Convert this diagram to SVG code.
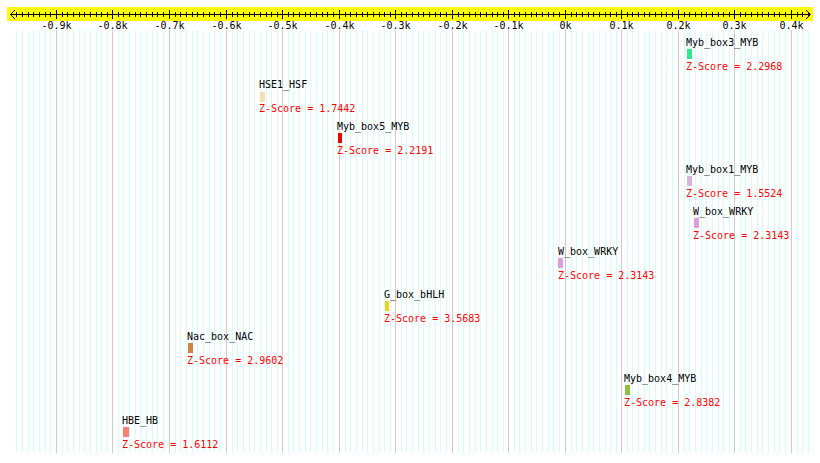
<svg xmlns="http://www.w3.org/2000/svg" width="820" height="463" viewBox="0 0 820 463">
<style>
text{font-family:"DejaVu Sans Mono","Liberation Mono",monospace;font-size:10px}
.lbl{fill:#000}
.sc{fill:#f00}
.ax{text-anchor:middle;fill:#000}
.mg{stroke:#d6fbfb;stroke-width:1;fill:none}
.Mg{stroke:#cccccc;stroke-width:1;fill:none}
.tk{stroke:#000;stroke-width:1;fill:none}
</style>
<defs>
<path id="mgb" d="M6.5 30V453M11.5 30V453M17.5 30V453M23.5 30V453M28.5 30V453M34.5 30V453M40.5 30V453M45.5 30V453M51.5 30V453"/>
<path id="tkb" d="M6.5 12V17M11.5 12V17M17.5 12V17M23.5 12V17M28.5 12V17M34.5 12V17M40.5 12V17M45.5 12V17M51.5 12V17"/>
</defs>
<rect width="820" height="463" fill="#fff"/>
<g id="grid">
<g class="mg">
<path d="M16.5 30V453M22.5 30V453M28.5 30V453M33.5 30V453M39.5 30V453M45.5 30V453M50.5 30V453M797.5 30V453M802.5 30V453M808.5 30V453"/>
<use href="#mgb" x="56"/><use href="#mgb" x="112"/><use href="#mgb" x="169"/><use href="#mgb" x="226"/><use href="#mgb" x="282"/><use href="#mgb" x="339"/><use href="#mgb" x="395"/><use href="#mgb" x="452"/><use href="#mgb" x="508"/><use href="#mgb" x="565"/><use href="#mgb" x="621"/><use href="#mgb" x="678"/><use href="#mgb" x="734"/>
</g>
<path class="Mg" d="M56.5 30V453M112.5 30V453M169.5 30V453M226.5 30V453M282.5 30V453M339.5 30V453M395.5 30V453M452.5 30V453M508.5 30V453M565.5 30V453M621.5 30V453M678.5 30V453M734.5 30V453M791.5 30V453"/>
</g>
<g id="ruler">
<rect x="7" y="7" width="806" height="14" fill="#ffff00"/>
<g class="tk">
<path d="M10 14.5H810"/>
<path d="M15 10L10.5 14.5L15 19M806 10L810.5 14.5L806 19"/>
<path d="M16.5 12V17M22.5 12V17M28.5 12V17M33.5 12V17M39.5 12V17M45.5 12V17M50.5 12V17M797.5 12V17M802.5 12V17M808.5 12V17"/>
<use href="#tkb" x="56"/><use href="#tkb" x="112"/><use href="#tkb" x="169"/><use href="#tkb" x="226"/><use href="#tkb" x="282"/><use href="#tkb" x="339"/><use href="#tkb" x="395"/><use href="#tkb" x="452"/><use href="#tkb" x="508"/><use href="#tkb" x="565"/><use href="#tkb" x="621"/><use href="#tkb" x="678"/><use href="#tkb" x="734"/>
<path d="M56.5 10V19M112.5 10V19M169.5 10V19M226.5 10V19M282.5 10V19M339.5 10V19M395.5 10V19M452.5 10V19M508.5 10V19M565.5 10V19M621.5 10V19M678.5 10V19M734.5 10V19M791.5 10V19"/>
</g>
<g class="ax">
<text x="56.5" y="29">-0.9k</text>
<text x="112.5" y="29">-0.8k</text>
<text x="169.5" y="29">-0.7k</text>
<text x="226.5" y="29">-0.6k</text>
<text x="282.5" y="29">-0.5k</text>
<text x="339.5" y="29">-0.4k</text>
<text x="395.5" y="29">-0.3k</text>
<text x="452.5" y="29">-0.2k</text>
<text x="508.5" y="29">-0.1k</text>
<text x="565.5" y="29">0k</text>
<text x="621.5" y="29">0.1k</text>
<text x="678.5" y="29">0.2k</text>
<text x="734.5" y="29">0.3k</text>
<text x="791.5" y="29">0.4k</text>
</g>
</g>
<g id="Myb_box3_MYB"><text class="lbl" x="686" y="46">Myb_box3_MYB</text><rect x="687" y="49" width="5" height="10" fill="#30e890"/><text class="sc" x="686" y="70">Z-Score = 2.2968</text></g>
<g id="HSE1_HSF"><text class="lbl" x="259" y="88">HSE1_HSF</text><rect x="260" y="92" width="5" height="10" fill="#f5deb3"/><text class="sc" x="259" y="112">Z-Score = 1.7442</text></g>
<g id="Myb_box5_MYB"><text class="lbl" x="337" y="130">Myb_box5_MYB</text><rect x="338" y="133" width="4" height="10" fill="#e00"/><text class="sc" x="337" y="154">Z-Score = 2.2191</text></g>
<g id="Myb_box1_MYB"><text class="lbl" x="686" y="173">Myb_box1_MYB</text><rect x="687" y="176" width="5" height="10" fill="#dcb4dc"/><text class="sc" x="686" y="197">Z-Score = 1.5524</text></g>
<g id="W_box_WRKY_1"><text class="lbl" x="693" y="215">W_box_WRKY</text><rect x="694" y="218" width="5" height="10" fill="#dda0dd"/><text class="sc" x="693" y="239">Z-Score = 2.3143</text></g>
<g id="W_box_WRKY_2"><text class="lbl" x="558" y="255">W_box_WRKY</text><rect x="558" y="258" width="5" height="10" fill="#dda0dd"/><text class="sc" x="558" y="279">Z-Score = 2.3143</text></g>
<g id="G_box_bHLH"><text class="lbl" x="384" y="298">G_box_bHLH</text><rect x="385" y="301" width="4" height="10" fill="#f0d020"/><text class="sc" x="384" y="322">Z-Score = 3.5683</text></g>
<g id="Nac_box_NAC"><text class="lbl" x="187" y="340">Nac_box_NAC</text><rect x="188" y="343" width="5" height="10" fill="#cd853f"/><text class="sc" x="187" y="364">Z-Score = 2.9602</text></g>
<g id="Myb_box4_MYB"><text class="lbl" x="624" y="382">Myb_box4_MYB</text><rect x="625" y="385" width="5" height="10" fill="#8fc045"/><text class="sc" x="624" y="406">Z-Score = 2.8382</text></g>
<g id="HBE_HB"><text class="lbl" x="122" y="424">HBE_HB</text><rect x="123" y="427" width="6" height="10" fill="#fa8072"/><text class="sc" x="122" y="448">Z-Score = 1.6112</text></g>
</svg>
